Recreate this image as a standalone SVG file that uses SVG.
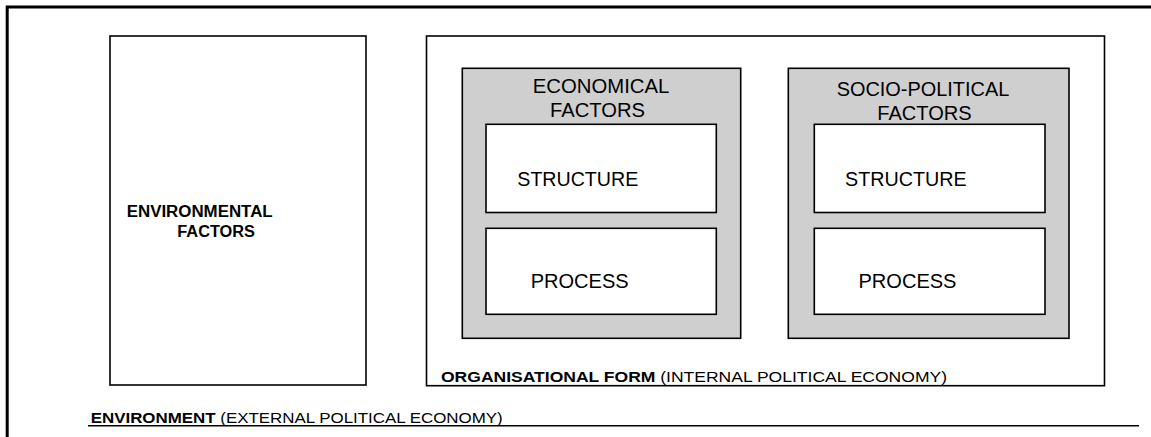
<svg xmlns="http://www.w3.org/2000/svg" width="1151" height="437" viewBox="0 0 1151 437">
<style>
.box{fill:#fff;stroke:#000;stroke-width:1.6}
.grey{fill:#cfcfcf;stroke:#000;stroke-width:1.6}
.t{font-family:"Liberation Sans",Arial,sans-serif;fill:#000}
.big{font-size:20px}
.b{font-weight:bold}
.sm{font-size:14.5px}
</style>
<rect x="0" y="0" width="1151" height="437" fill="#fff"/>
<g id="environment">
  <path d="M7.2,437 V7 H1151" fill="none" stroke="#000" stroke-width="3"/>
  <line x1="88" y1="425.8" x2="1139" y2="425.8" stroke="#000" stroke-width="1.5"/>
  <text class="t sm" x="90.7" y="422.5" textLength="412" lengthAdjust="spacingAndGlyphs"><tspan class="b">ENVIRONMENT</tspan> (EXTERNAL POLITICAL ECONOMY)</text>
</g>
<g id="environmental-factors">
  <rect class="box" x="110" y="36" width="256" height="349"/>
  <text class="t b" font-size="16" x="126.7" y="217.3" textLength="146" lengthAdjust="spacingAndGlyphs">ENVIRONMENTAL</text>
  <text class="t b" font-size="16" x="177.3" y="236.7" textLength="77.7" lengthAdjust="spacingAndGlyphs">FACTORS</text>
</g>
<g id="organisational-form">
  <rect class="box" x="426.5" y="36" width="678" height="349.7"/>
  <text class="t sm" x="441" y="382" textLength="506" lengthAdjust="spacingAndGlyphs"><tspan class="b">ORGANISATIONAL FORM</tspan> (INTERNAL POLITICAL ECONOMY)</text>
</g>
<g id="economical-factors">
  <rect class="grey" x="462.3" y="68.3" width="278.4" height="270"/>
  <text class="t big" x="601" y="93.3" text-anchor="middle" textLength="136.7" lengthAdjust="spacingAndGlyphs">ECONOMICAL</text>
  <text class="t big" x="597.5" y="117.3" text-anchor="middle" textLength="95" lengthAdjust="spacingAndGlyphs">FACTORS</text>
</g>
<g id="economical-structure">
  <rect class="box" x="486" y="124.3" width="230.3" height="88.2"/>
  <text class="t big" x="517.3" y="186" textLength="121" lengthAdjust="spacingAndGlyphs">STRUCTURE</text>
</g>
<g id="economical-process">
  <rect class="box" x="486" y="228.3" width="230.3" height="86"/>
  <text class="t big" x="530.7" y="288.3" textLength="98" lengthAdjust="spacingAndGlyphs">PROCESS</text>
</g>
<g id="socio-political-factors">
  <rect class="grey" x="788.3" y="68.3" width="280.7" height="270"/>
  <text class="t big" x="923" y="95.5" text-anchor="middle" textLength="172.6" lengthAdjust="spacingAndGlyphs">SOCIO-POLITICAL</text>
  <text class="t big" x="924.5" y="120" text-anchor="middle" textLength="94.4" lengthAdjust="spacingAndGlyphs">FACTORS</text>
</g>
<g id="socio-political-structure">
  <rect class="box" x="814.3" y="124.3" width="230.7" height="88.2"/>
  <text class="t big" x="845" y="186" textLength="121.7" lengthAdjust="spacingAndGlyphs">STRUCTURE</text>
</g>
<g id="socio-political-process">
  <rect class="box" x="814.3" y="228.3" width="230.7" height="86"/>
  <text class="t big" x="858.5" y="288.3" textLength="98" lengthAdjust="spacingAndGlyphs">PROCESS</text>
</g>
<g id="connectors"></g>
</svg>
